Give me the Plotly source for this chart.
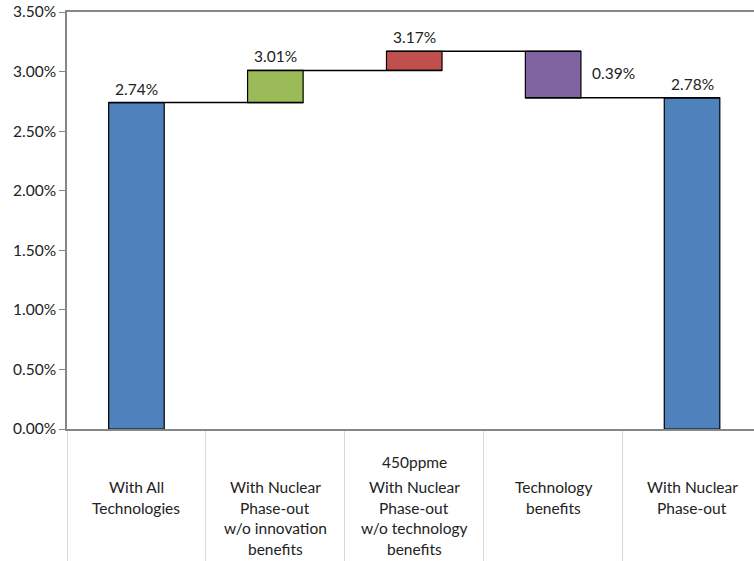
import plotly.graph_objects as go

# ---- data ----
categories = ["With All Technologies",
              "With Nuclear Phase-out w/o innovation benefits",
              "450ppme With Nuclear Phase-out w/o technology benefits",
              "Technology benefits",
              "With Nuclear Phase-out"]
category_lines = [["With All", "Technologies"],
                  ["With Nuclear", "Phase-out", "w/o innovation", "benefits"],
                  ["With Nuclear", "Phase-out", "w/o technology", "benefits"],
                  ["Technology", "benefits"],
                  ["With Nuclear", "Phase-out"]]
group_label = "450ppme"
bar_base = [0.0, 0.0274, 0.0301, 0.0278, 0.0]
bar_height = [0.0274, 0.0027, 0.0016, 0.0039, 0.0278]
bar_labels = ["2.74%", "3.01%", "3.17%", "0.39%", "2.78%"]
connector_levels = [0.0274, 0.0301, 0.0317, 0.0278]
bar_colors = ["#4F81BD", "#9BBB59", "#C0504D", "#8064A2", "#4F81BD"]

W, H = 754, 561
PL, PT, PB = 66.5, 12, 429   # plot area in page pixels
L, T, B = PL, PT, H - PB
xs = list(range(len(categories)))
bw = 0.4
cat_w = 139.0
xmax = (W - L) / cat_w - 0.5

FONT = "Lato"
FS = 15.5
fig = go.Figure()
fig.add_trace(go.Bar(
    x=xs, y=bar_height, base=bar_base, width=bw,
    marker=dict(color=bar_colors, line=dict(color="#000000", width=1.2)),
    hoverinfo="skip", showlegend=False))

# connectors
cx, cy = [], []
for i, lv in enumerate(connector_levels):
    cx += [xs[i] - bw / 2, xs[i + 1] + bw / 2, None]
    cy += [lv, lv, None]
fig.add_trace(go.Scatter(x=cx, y=cy, mode="lines",
                         line=dict(color="#000000", width=1.5),
                         hoverinfo="skip", showlegend=False))

ann = []
for i, lab in enumerate(bar_labels):
    top = bar_base[i] + bar_height[i]
    if i == 3:
        ann.append(dict(x=xs[i] + bw / 2, y=top - bar_height[i] / 2, xref="x", yref="y",
                        text=lab, showarrow=False, xanchor="left", yanchor="middle",
                        xshift=9, yshift=2, font=dict(family=FONT, size=FS, color="#222")))
    else:
        ann.append(dict(x=xs[i], y=top, xref="x", yref="y", text=lab, showarrow=False,
                        xanchor="center", yanchor="middle", yshift=14,
                        font=dict(family=FONT, size=FS, color="#222")))

plot_h = PB - PT
def py(pix):
    return (PB - pix) / plot_h

for i, lines in enumerate(category_lines):
    for j, line in enumerate(lines):
        ann.append(dict(x=xs[i], y=py(487 + 20.5 * j), xref="x", yref="paper",
                        text=line, showarrow=False, xanchor="center", yanchor="middle",
                        font=dict(family=FONT, size=FS, color="#222")))
ann.append(dict(x=xs[2], y=py(462), xref="x", yref="paper", text=group_label,
                showarrow=False, xanchor="center", yanchor="middle",
                font=dict(family=FONT, size=FS, color="#222")))

fig.update_layout(
    width=W, height=H,
    margin=dict(l=L, r=0, t=T, b=B, pad=0),
    plot_bgcolor="white", paper_bgcolor="white",
    barmode="overlay",
    annotations=ann,
    xaxis=dict(range=[-0.5, xmax], tickvals=[-0.5, 0.5, 1.5, 2.5, 3.5, 4.5],
               showticklabels=False, ticks="outside", ticklen=B, tickcolor="#D9D9D9",
               tickwidth=1, showgrid=False, zeroline=False, showline=True,
               linecolor="#868686", linewidth=1.5, mirror=True, fixedrange=True),
    yaxis=dict(range=[0, 0.035], dtick=0.005, tickformat=".2%", showgrid=False,
               zeroline=False, showline=True, linecolor="#868686", linewidth=1.5,
               ticks="outside", ticklen=6, tickcolor="#868686",
               tickfont=dict(family=FONT, size=FS, color="#222"), fixedrange=True),
)

fig.write_html("out.html",
               config={"displayModeBar": False},
               post_script="document.body.style.margin='0';"
                           "document.body.style.overflow='hidden';")
